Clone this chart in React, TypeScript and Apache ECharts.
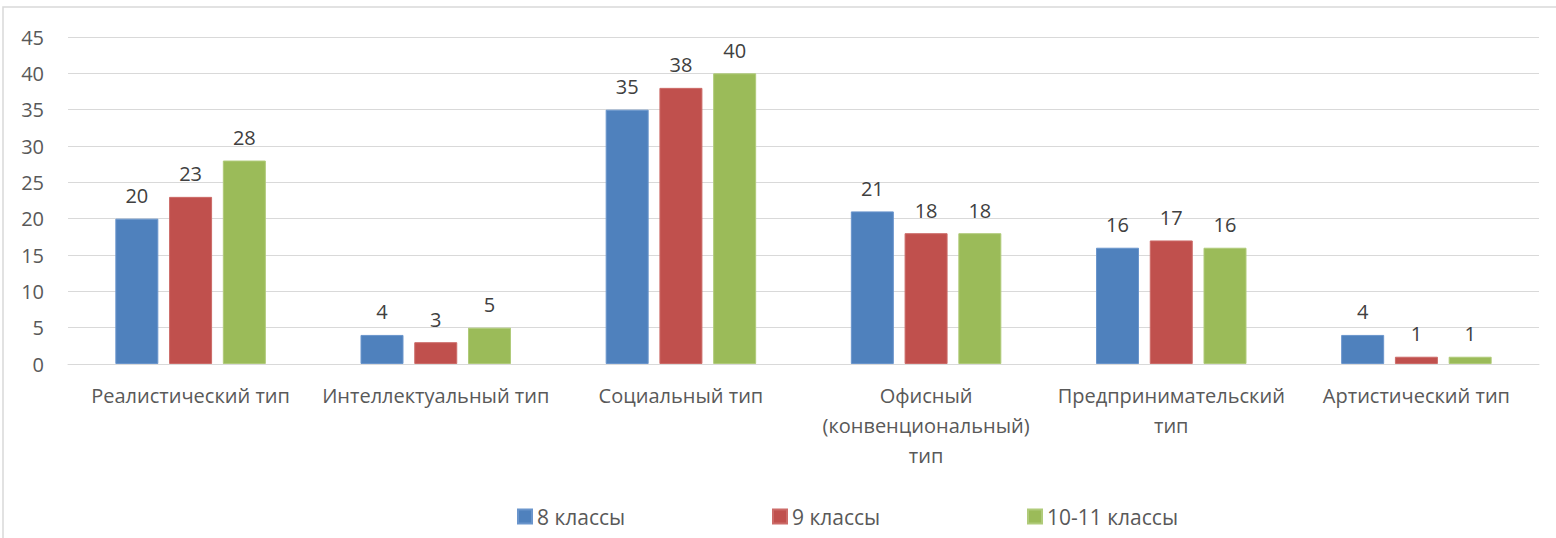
import React, { useEffect, useRef } from "react";
import * as echarts from "echarts";

const categories = [
  "Реалистический тип",
  "Интеллектуальный тип",
  "Социальный тип",
  "Офисный\n(конвенциональный)\nтип",
  "Предпринимательский\nтип",
  "Артистический тип",
];
const seriesNames = ["8 классы", "9 классы", "10-11 классы"];
const grade8 = [20, 4, 35, 21, 16, 4];
const grade9 = [23, 3, 38, 18, 17, 1];
const grade10_11 = [28, 5, 40, 18, 16, 1];
const colors = ["#4F81BD", "#C0504D", "#9BBB59"];
const borderColors = ["#6A95CC", "#CC6B68", "#B0CB7A"];

const FONT = "'Open Sans', 'Noto Sans', sans-serif";

export default function App() {
  const ref = useRef<HTMLDivElement>(null);
  useEffect(() => {
    if (!ref.current) return;
    const chart = echarts.init(ref.current, null, { renderer: "svg" });
    const data = [grade8, grade9, grade10_11];
    const legendLefts = [517, 772, 1027];
    chart.setOption({
      animation: false,
      backgroundColor: "#ffffff",
      textStyle: { fontFamily: FONT },
      graphic: [
        {
          type: "rect",
          shape: { x: 3, y: 7, width: 1570, height: 560 },
          style: { fill: "none", stroke: "#d9d9d9", lineWidth: 1.5 },
          silent: true,
        },
      ],
      grid: { left: 68, right: 17, top: 37, bottom: 174 },
      legend: seriesNames.map((n, i) => ({
        data: [n],
        left: legendLefts[i],
        top: 506,
        padding: 0,
        itemWidth: 14,
        itemHeight: 14,
        icon: "rect",
        textStyle: { fontSize: 21, color: "#595959", fontFamily: FONT },
      })),
      xAxis: {
        type: "category",
        data: categories,
        axisLine: { show: true, lineStyle: { color: "#d9d9d9", width: 1 } },
        axisTick: { show: false },
        axisLabel: {
          interval: 0,
          margin: 16,
          fontSize: 20,
          lineHeight: 30,
          color: "#595959",
          fontFamily: FONT,
        },
      },
      yAxis: {
        type: "value",
        min: 0,
        max: 45,
        interval: 5,
        axisLine: { show: false },
        axisTick: { show: false },
        splitLine: { lineStyle: { color: "#d9d9d9", width: 1 } },
        axisLabel: { margin: 24, fontSize: 20, color: "#595959", fontFamily: FONT },
      },
      series: seriesNames.map((n, i) => ({
        name: n,
        type: "bar",
        data: data[i],
        barWidth: 43,
        barGap: "25%",
        itemStyle: { color: colors[i], borderColor: borderColors[i], borderWidth: 1 },
        label: {
          show: true,
          position: "top",
          distance: 13,
          fontSize: 20,
          color: "#404040",
          fontFamily: FONT,
        },
      })),
    });
    return () => chart.dispose();
  }, []);
  return (
    <div
      ref={ref}
      style={{ position: "absolute", left: 0, top: 0, width: 1556, height: 538 }}
    />
  );
}
